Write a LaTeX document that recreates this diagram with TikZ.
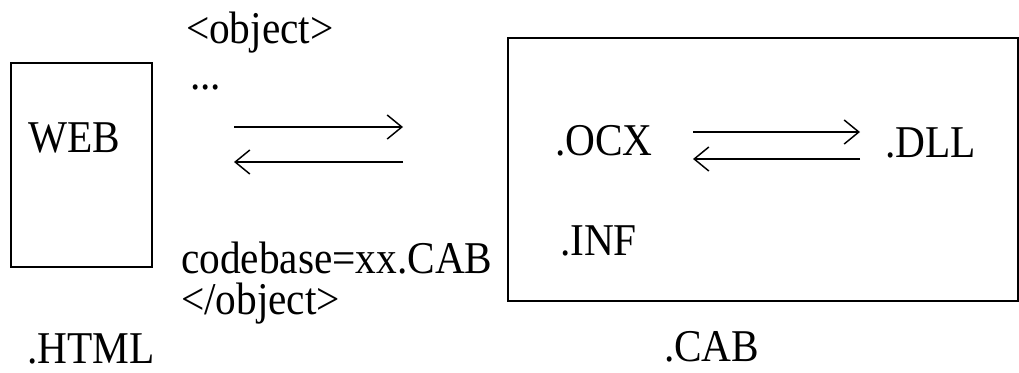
\documentclass[tikz,border=0pt]{standalone}
\usepackage{fontspec}
\setmainfont{Liberation Serif}
\usetikzlibrary{arrows.meta}
\newcommand{\tall}[1]{\scalebox{1}[1.1]{#1}}
\begin{document}
\begin{tikzpicture}[x=0.75pt,y=-0.75pt,
  lbl/.style={anchor=base west,inner sep=0pt,outer sep=0pt,font=\fontsize{31}{36}\selectfont},
  flat/.style={text depth=0pt},
  boxframe/.style={draw,line width=1.4pt,anchor=north west,inner sep=0pt,outer sep=0pt},
  link/.style={line width=1.1pt,-{Straight Barb[length=11pt,width=18pt,line width=1.1pt]}}]
\useasboundingbox (0,0) rectangle (1019,372);
% frames
\node[boxframe,minimum width=105.75pt,minimum height=153pt] (htmlbox) at (11,63) {};
\node[boxframe,minimum width=382.5pt,minimum height=197.25pt] (cabbox) at (508,38) {};
% labels
\node[lbl] (web) at (28,152) {\tall{WEB}};
\node[lbl,flat] (html) at (27,363) {\tall{.HTML}};
\node[lbl] (obj) at (186,43) {\tall{<object>}};
\node[lbl] (dots) at (190,89) {\tall{...}};
\node[lbl,flat] (codebase) at (181,273) {\tall{codebase=xx.CAB}};
\node[lbl] (objend) at (181,314) {\tall{</object>}};
\node[lbl] (ocx) at (555,155) {\tall{.OCX}};
\node[lbl] (dll) at (885,157) {\tall{.DLL}};
\node[lbl] (inf) at (560,255) {\tall{.INF}};
\node[lbl,flat] (cab) at (664,361) {\tall{.CAB}};
% connector ends
\coordinate (la) at (234,127);
\coordinate (ra) at (403,127);
\coordinate (lb) at (234,162);
\coordinate (rb) at (403,162);
\coordinate (lc) at (693,132);
\coordinate (rc) at (860,132);
\coordinate (ld) at (693,159);
\coordinate (rd) at (860,159);
\draw[link] (la) -- (ra);
\draw[link] (rb) -- (lb);
\draw[link] (lc) -- (rc);
\draw[link] (rd) -- (ld);
\end{tikzpicture}
\end{document}
